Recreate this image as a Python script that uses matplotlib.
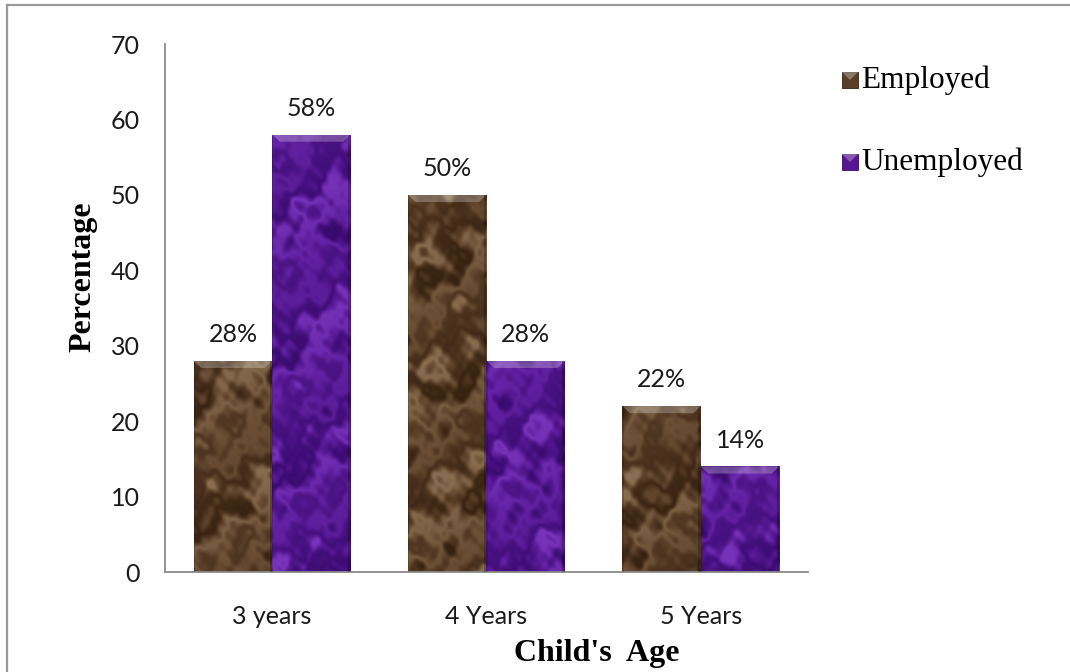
import matplotlib.pyplot as plt
from matplotlib.colors import LinearSegmentedColormap
from matplotlib.patches import Rectangle, Polygon
from matplotlib.lines import Line2D
import numpy as np

# chart data
ages = ['3 years', '4 Years', '5 Years']
employed = [28, 50, 22]
unemployed = [58, 28, 14]
series_names = ['Employed', 'Unemployed']

W, H = 1070, 672
SANS = 'Lato'
SERIF = 'Liberation Serif'

BROWN = ['#34200f', '#48301c', '#5a3f28', '#6e5238', '#8e7255']
PURPLE = ['#380a6c', '#46107f', '#54178f', '#6322a3', '#7a36bd']

# swirl waves for the marble look (fx, fy, phase, amplitude)
WAVES = [(0.071, 0.043, 0.3, 1.0), (0.033, 0.109, 1.7, 0.9), (0.137, -0.061, 2.9, 0.7),
         (-0.053, 0.171, 4.1, 0.6), (0.223, 0.097, 5.3, 0.45), (0.101, -0.211, 0.8, 0.4),
         (0.317, 0.151, 2.2, 0.3), (-0.263, 0.349, 3.6, 0.25), (0.461, -0.389, 1.1, 0.2),
         (0.577, 0.293, 4.7, 0.15)]


def fig_xy(x, y):
    return x / W, 1 - y / H


def marble(h, w, colors, shift):
    yy, xx = np.mgrid[0:h, 0:w].astype(float)
    turb = np.zeros((h, w))
    for fx, fy, ph, amp in WAVES:
        turb += amp * np.sin(fx * xx + fy * yy + ph + shift)
    v = 0.6 * np.sin(0.03 * xx + 0.05 * yy + 1.3 * turb) + 0.4 * np.tanh(turb / 2)
    v = np.clip(0.5 + 0.5 * v, 0, 1)
    cmap = LinearSegmentedColormap.from_list('marble', colors)
    return cmap(v)


def textured_bars(ax, xs, heights, width, colors, shift):
    tex = marble(528, 643, colors, shift)
    bars = ax.bar(xs, heights, width, color=colors[2], edgecolor='none', zorder=1)
    dx, dy = 0.035, 0.95
    for b in bars:
        im = ax.imshow(tex, extent=(-0.5, 2.5, 0, 70), aspect='auto',
                       interpolation='bilinear', zorder=2)
        im.set_clip_path(b)
        x0, x1, top = b.get_x(), b.get_x() + b.get_width(), b.get_height()
        # bevelled top edge
        ax.add_patch(Polygon([(x0, top), (x1, top), (x1 - dx, top - dy), (x0 + dx, top - dy)],
                             closed=True, facecolor='white', alpha=0.25, edgecolor='none', zorder=3))
        ax.add_patch(Rectangle((x1 - 0.012, 0), 0.012, top, facecolor='black', alpha=0.25,
                               edgecolor='none', zorder=3))
        ax.add_patch(Rectangle((x0, 0), 0.006, top, facecolor='black', alpha=0.15,
                               edgecolor='none', zorder=3))
    return bars


fig = plt.figure(figsize=(W / 100, H / 100), dpi=100)
ax = fig.add_axes([165 / W, 1 - 572 / H, (808 - 165) / W, (572 - 44) / H])

x = np.arange(len(ages))
w = 0.366
b1 = textured_bars(ax, x - w / 2, employed, w, BROWN, 0.0)
b2 = textured_bars(ax, x + w / 2, unemployed, w, PURPLE, 2.4)

for bars, vals in ((b1, employed), (b2, unemployed)):
    for b, v in zip(bars, vals):
        ax.annotate(f'{v}%', (b.get_x() + b.get_width() / 2, v), xytext=(0, 19),
                    textcoords='offset points', ha='center', va='center',
                    fontsize=18, family=SANS, color='#1a1a1a')

ax.set_xlim(-0.5, 2.5)
ax.set_ylim(0, 70)
ax.set_yticks(range(0, 71, 10))
ax.set_xticks(x)
ax.set_xticklabels(ages)
for lab in ax.get_xticklabels() + ax.get_yticklabels():
    lab.set_family(SANS)
ax.tick_params(axis='both', length=0, labelsize=18, colors='#1a1a1a')
ax.tick_params(axis='x', pad=24)
ax.tick_params(axis='y', pad=18)
for s in ('top', 'right'):
    ax.spines[s].set_visible(False)
for s in ('left', 'bottom'):
    ax.spines[s].set_color('#8a8a8a')
    ax.spines[s].set_linewidth(1.3)

# axis titles
fig.text(*fig_xy(83, 277), 'Percentage', rotation=90, ha='center', va='center',
         fontsize=23, fontweight='bold', family=SERIF)
fig.text(*fig_xy(597, 653), "Child's  Age", ha='center', va='center',
         fontsize=23, fontweight='bold', family=SERIF)

# legend
for (ly, cols, name) in ((80, BROWN, series_names[0]), (162, PURPLE, series_names[1])):
    mx, my = fig_xy(842, ly + 8)
    fig.patches.append(Rectangle((mx, my), 16 / W, 16 / H, transform=fig.transFigure,
                                 facecolor=cols[2], edgecolor=cols[0], linewidth=0.6))
    fig.patches.append(Polygon([fig_xy(842, ly - 8), fig_xy(858, ly - 8), fig_xy(850, ly)],
                               closed=True, transform=fig.transFigure,
                               facecolor='white', alpha=0.3, edgecolor='none'))
    fig.text(*fig_xy(861, ly), name, ha='left', va='center', fontsize=22.5, family=SERIF)

# outer frame
fig.add_artist(Line2D([7 / W, 1], [1 - 5 / H, 1 - 5 / H], color='#9a9a9a', linewidth=1.6,
                      transform=fig.transFigure))
fig.add_artist(Line2D([7 / W, 7 / W], [0, 1 - 5 / H], color='#9a9a9a', linewidth=1.6,
                      transform=fig.transFigure))

fig.savefig('out.png', dpi=100)
